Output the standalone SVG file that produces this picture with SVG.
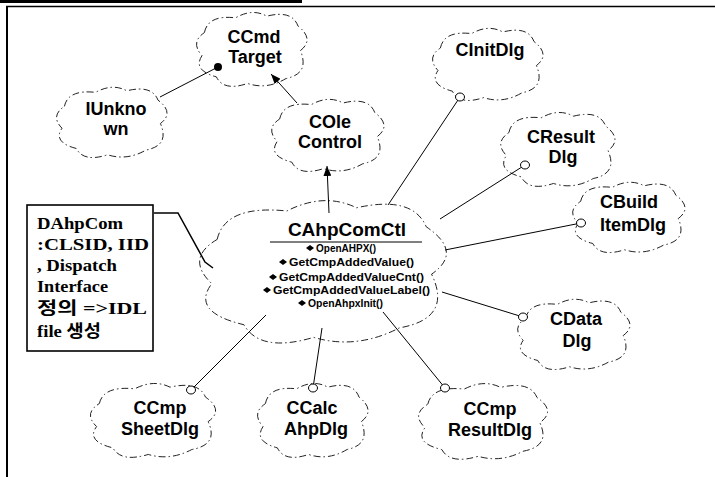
<svg xmlns="http://www.w3.org/2000/svg" xmlns:xlink="http://www.w3.org/1999/xlink" width="715" height="477" viewBox="0 0 715 477">
<style>
.cl{fill:none;stroke:#222;stroke-width:1;stroke-dasharray:7 3 1.5 3}
.lbl{font-family:"Liberation Sans",Arial,sans-serif;font-weight:bold;font-size:18px;text-anchor:middle;fill:#000}
.m{font-family:"Liberation Sans",Arial,sans-serif;font-weight:bold;font-size:10px;fill:#000}
.note{font-family:"Liberation Serif","Noto Sans CJK KR",serif;font-weight:bold;font-size:17px;fill:#000}
.ln{stroke:#000;stroke-width:1;fill:none}
.oc{fill:#fff;stroke:#000;stroke-width:1}
.dm{fill:#000}
</style>
<defs>
<path id="cloud" vector-effect="non-scaling-stroke" d="M12,30 Q15,8 38,12 Q52,0 64,10 Q85,2 90,22 Q104,38 92,52 Q100,80 80,86 Q64,100 48,92 Q28,102 22,84 Q2,76 10,58 Q0,42 12,30 Z"/>
<marker id="tri" viewBox="0 0 10 8" refX="10" refY="4" markerWidth="10" markerHeight="8" markerUnits="userSpaceOnUse" orient="auto">
<path d="M0,0 L10,4 L0,8 Z" fill="#000"/>
</marker>
</defs>
<rect width="715" height="477" fill="#fff"/>
<g id="frame">
<rect x="0" y="0" width="302" height="3" fill="#000"/>
<line x1="6" y1="6.5" x2="715" y2="6.5" stroke="#000" stroke-width="1.5"/>
<line x1="7" y1="6" x2="7" y2="477" stroke="#000" stroke-width="2"/>
</g>
<g id="CCmdTarget">
<use xlink:href="#cloud" class="cl" transform="translate(190,8) scale(1.2,0.82)"/>
<text class="lbl" x="254" y="43">CCmd</text>
<text class="lbl" x="255" y="63">Target</text>
</g>
<g id="IUnknown">
<use xlink:href="#cloud" class="cl" transform="translate(50,83) scale(1.2,0.78)"/>
<text class="lbl" x="116" y="115">IUnkno</text>
<text class="lbl" x="116" y="135">wn</text>
</g>
<g id="COleControl">
<use xlink:href="#cloud" class="cl" transform="translate(265,95) scale(1.22,0.8)"/>
<text class="lbl" x="330" y="128">COle</text>
<text class="lbl" x="330" y="148">Control</text>
</g>
<g id="CInitDlg">
<use xlink:href="#cloud" class="cl" transform="translate(426,24) scale(1.2,0.8)"/>
<text class="lbl" x="490" y="56">CInitDlg</text>
</g>
<g id="CResultDlg">
<use xlink:href="#cloud" class="cl" transform="translate(494,108) scale(1.24,0.82)"/>
<text class="lbl" x="561" y="143">CResult</text>
<text class="lbl" x="563" y="163">Dlg</text>
</g>
<g id="CBuildItemDlg">
<use xlink:href="#cloud" class="cl" transform="translate(566,178) scale(1.22,0.78)"/>
<text class="lbl" x="629" y="208">CBuild</text>
<text class="lbl" x="633" y="231">ItemDlg</text>
</g>
<g id="CDataDlg">
<use xlink:href="#cloud" class="cl" transform="translate(511,295) scale(1.22,0.78)"/>
<text class="lbl" x="576" y="325">CData</text>
<text class="lbl" x="577" y="347">Dlg</text>
</g>
<g id="CAhpComCtl">
<use xlink:href="#cloud" class="cl" transform="translate(185,192) scale(2.68,1.58)"/>
<text class="lbl" x="347" y="236" style="font-size:19px">CAhpComCtl</text>
<line x1="270" y1="242" x2="422" y2="242" stroke="#000" stroke-width="1.2"/>
<polygon class="dm" points="306,248 310,245 314,248 310,251"/>
<text class="m" x="316" y="252" textLength="60" lengthAdjust="spacingAndGlyphs">OpenAHPX()</text>
<polygon class="dm" points="279,262 283,259 287,262 283,265"/>
<text class="m" x="289" y="266" textLength="125" lengthAdjust="spacingAndGlyphs">GetCmpAddedValue()</text>
<polygon class="dm" points="269,277 273,274 277,277 273,280"/>
<text class="m" x="279" y="281" textLength="145" lengthAdjust="spacingAndGlyphs">GetCmpAddedValueCnt()</text>
<polygon class="dm" points="263,290 267,287 271,290 267,293"/>
<text class="m" x="273" y="294" textLength="157" lengthAdjust="spacingAndGlyphs">GetCmpAddedValueLabel()</text>
<polygon class="dm" points="298,303 302,300 306,303 302,306"/>
<text class="m" x="308" y="307" textLength="75" lengthAdjust="spacingAndGlyphs">OpenAhpxInit()</text>
</g>
<g id="CCmpSheetDlg">
<use xlink:href="#cloud" class="cl" transform="translate(83,379) scale(1.36,0.82)"/>
<text class="lbl" x="160" y="414">CCmp</text>
<text class="lbl" x="160" y="435">SheetDlg</text>
</g>
<g id="CCalcAhpDlg">
<use xlink:href="#cloud" class="cl" transform="translate(251,379) scale(1.2,0.82)"/>
<text class="lbl" x="312" y="414">CCalc</text>
<text class="lbl" x="316" y="435">AhpDlg</text>
</g>
<g id="CCmpResultDlg">
<use xlink:href="#cloud" class="cl" transform="translate(411,379) scale(1.4,0.84)"/>
<text class="lbl" x="490" y="415">CCmp</text>
<text class="lbl" x="490" y="436">ResultDlg</text>
</g>
<g id="note">
<rect x="27" y="205" width="126" height="146" fill="#fff" stroke="#000" stroke-width="1.6"/>
<text class="note" x="37" y="229" textLength="86" lengthAdjust="spacingAndGlyphs">DAhpCom</text>
<text class="note" x="37" y="250" textLength="112" lengthAdjust="spacingAndGlyphs">:CLSID, IID</text>
<text class="note" x="37" y="271" textLength="80" lengthAdjust="spacingAndGlyphs">, Dispatch</text>
<text class="note" x="37" y="292" textLength="71" lengthAdjust="spacingAndGlyphs">Interface</text>
<text class="note" x="37" y="314" textLength="110" lengthAdjust="spacingAndGlyphs">정의 =&gt;IDL</text>
<text class="note" x="37" y="337" textLength="64" lengthAdjust="spacingAndGlyphs">file 생성</text>
</g>
<g id="connectors">
<line class="ln" x1="160" y1="97" x2="218" y2="67"/>
<circle cx="218" cy="67" r="4" fill="#000"/>
<line class="ln" x1="297" y1="103" x2="271" y2="74" marker-end="url(#tri)"/>
<line class="ln" x1="329" y1="213" x2="327" y2="166" marker-end="url(#tri)"/>
<line class="ln" x1="388" y1="205" x2="460" y2="97"/>
<ellipse class="oc" cx="460" cy="97" rx="4.5" ry="4"/>
<line class="ln" x1="440" y1="219" x2="525" y2="165"/>
<ellipse class="oc" cx="525" cy="165" rx="4.5" ry="4"/>
<line class="ln" x1="445" y1="250" x2="581" y2="223"/>
<ellipse class="oc" cx="581" cy="223" rx="4.5" ry="4"/>
<line class="ln" x1="442" y1="292" x2="523" y2="317"/>
<ellipse class="oc" cx="523" cy="317" rx="4.5" ry="4"/>
<line class="ln" x1="383" y1="312" x2="445" y2="388"/>
<ellipse class="oc" cx="445" cy="388" rx="4.5" ry="4"/>
<line class="ln" x1="322" y1="328" x2="313" y2="388"/>
<ellipse class="oc" cx="313" cy="388" rx="4.5" ry="4"/>
<line class="ln" x1="266" y1="315" x2="191" y2="390"/>
<ellipse class="oc" cx="191" cy="390" rx="4.5" ry="4"/>
<polyline points="154,213 178,213 205,262 213,268" fill="none" stroke="#000" stroke-width="1.5"/>
</g>
</svg>
